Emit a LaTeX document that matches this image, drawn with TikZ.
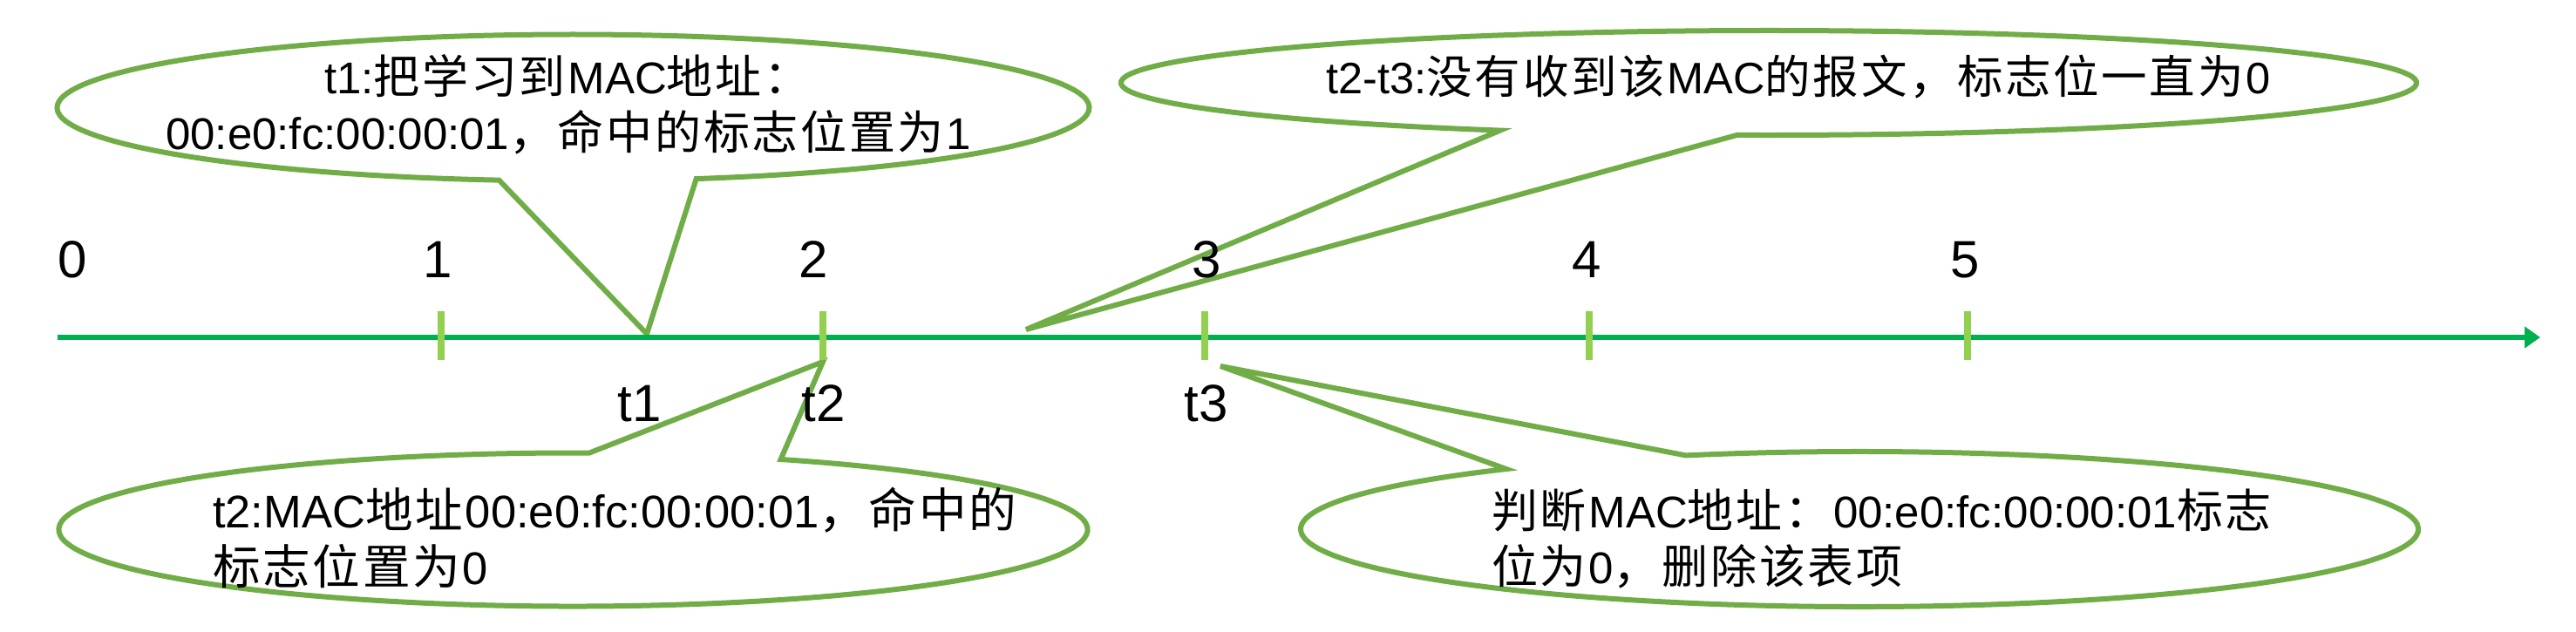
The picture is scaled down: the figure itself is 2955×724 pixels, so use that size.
\documentclass[tikz,border=0pt]{standalone}
\usepackage{fontspec}
\setmainfont{Liberation Sans}
\newfontfamily\cjk[Scale=1.04]{Noto Sans CJK SC}
\usetikzlibrary{arrows.meta,calc}
\definecolor{callgreen}{HTML}{70AD47}
\definecolor{axisgreen}{HTML}{00B050}
\definecolor{tickgreen}{HTML}{92D050}
\newcommand\zh[1]{{\cjk\zhloop#1\relax}}
\def\zhloop#1{\ifx#1\relax\else #1\kern0.05em\expandafter\zhloop\fi}
\tikzset{
  callout/.style={draw=callgreen, line width=6pt, fill=white, line join=miter},
  axisline/.style={draw=axisgreen, line width=6pt, -{Triangle[length=18pt,width=24pt]}},
  tickmark/.style={draw=tickgreen, line width=8pt},
  numlabel/.style={font=\fontsize{60}{72}\selectfont, inner sep=0pt},
  calltext/.style={font=\fontsize{51}{64.5}\selectfont, inner sep=0pt},
}
\begin{document}
\begin{tikzpicture}[x=1pt,y=-1pt]
\useasboundingbox[fill=white] (0,0) rectangle (2955,724);
% callout centres and tips
\coordinate (c1) at (657.5,123.5);
\coordinate (tip1) at (742,383);
\coordinate (c2) at (2029,95);
\coordinate (tip2) at (1177,378);
\coordinate (c3) at (657.5,607.5);
\coordinate (tip3) at (944,415);
\coordinate (c4) at (2133,607);
\coordinate (tip4) at (1400,420);
% callouts
\path[callout] ($(c1)+(-98.26:592pt and 84pt)$) arc[start angle=-98.26, end angle=-436.2, x radius=592pt, y radius=84pt] -- (tip1) -- cycle;
\path[callout] ($(c2)+(-114.5:743pt and 60pt)$) arc[start angle=-114.5, end angle=-452.8, x radius=743pt, y radius=60pt] -- (tip2) -- cycle;
\path[callout] ($(c3)+(-293.8:590pt and 88pt)$) arc[start angle=-293.8, end angle=-631.8, x radius=590pt, y radius=88pt] -- (tip3) -- cycle;
\path[callout] ($(c4)+(-251.9:641pt and 89pt)$) arc[start angle=-251.9, end angle=-590.8, x radius=641pt, y radius=89pt] -- (tip4) -- cycle;
% callout texts
\node[calltext, align=center] (txt1) at (652,120) {t1:\zh{把学习到}MAC\zh{地址：}\\00:e0:fc:00:00:01\zh{，命中的标志位置为}1};
\node[calltext, font=\fontsize{50.5}{64.5}\selectfont] (txt2) at (2063,88) {t2-t3:\zh{没有收到该}MAC\zh{的报文，标志位一直为}0};
\node[calltext, font=\fontsize{52.5}{65}\selectfont, align=left, anchor=west] (txt3) at (244,617) {t2:MAC\zh{地址}00:e0:fc:00:00:01\zh{，命中的}\\\zh{标志位置为}0};
\node[calltext, align=left, anchor=west] (txt4) at (1711,618) {\zh{判断}MAC\zh{地址：}00:e0:fc:00:00:01\zh{标志}\\\zh{位为}0\zh{，删除该表项}};
% axis
\coordinate (ax0) at (66,387);
\coordinate (ax1) at (2914,387);
\draw[axisline] (ax0) -- (ax1);
% ticks
\foreach \n/\x in {1/506,2/944,3/1382,4/1823,5/2257}{
  \coordinate (tt\n) at (\x,357);
  \coordinate (tb\n) at (\x,413);
  \draw[tickmark] (tt\n) -- (tb\n);
}
% number labels
\node[numlabel] (n0) at (83,298) {0};
\node[numlabel] (n1) at (502,298) {1};
\node[numlabel] (n2) at (933,298) {2};
\node[numlabel] (n3) at (1384,298) {3};
\node[numlabel] (n4) at (1820,298) {4};
\node[numlabel] (n5) at (2254,298) {5};
\node[numlabel] (t1) at (734,463) {t1};
\node[numlabel] (t2) at (945,463) {t2};
\node[numlabel] (t3) at (1384,463) {t3};
\end{tikzpicture}
\end{document}
